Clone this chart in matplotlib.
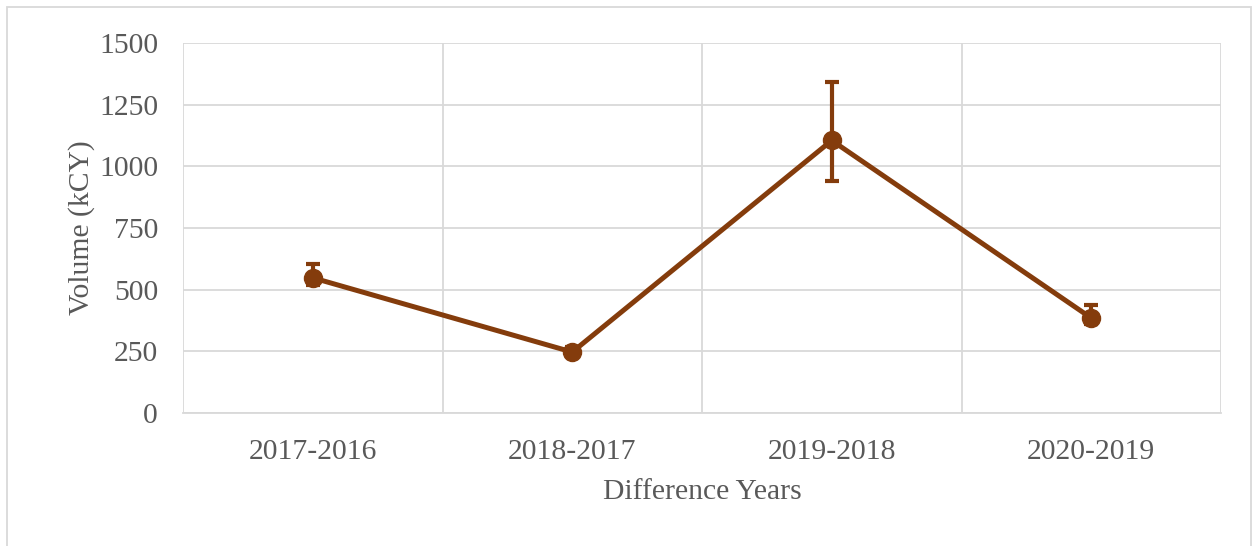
import matplotlib.pyplot as plt
import numpy as np
from matplotlib.patches import Rectangle

years = ['2017-2016', '2018-2017', '2019-2018', '2020-2019']
volume = [548, 247, 1105, 385]
err_low = [28, 15, 165, 25]
err_high = [57, 20, 235, 52]

color = '#843C0C'
plt.rcParams['font.family'] = ['Liberation Serif', 'DejaVu Serif']

fig = plt.figure(figsize=(12.53, 5.46), dpi=100)
ax = fig.add_axes([183 / 1253, 1 - 413 / 546, (1221 - 183) / 1253, (413 - 43) / 546])

x = np.arange(len(years))
ax.errorbar(x, volume, yerr=[err_low, err_high], color=color, lw=3.6,
            marker='o', markersize=13, elinewidth=3, capsize=5, capthick=3)

ax.set_xlim(-0.5, len(years) - 0.5)
ax.set_ylim(0, 1500)
ax.set_yticks(np.arange(0, 1501, 250))
ax.set_xticks(x)
ax.set_xticklabels(years)

ax.set_xticks(np.arange(-0.5, len(years)), minor=True)
ax.grid(True, which='minor', axis='x', color='#D9D9D9', lw=1.3)
ax.grid(True, which='major', axis='y', color='#D9D9D9', lw=1.3)
ax.set_axisbelow(True)
ax.tick_params(which='both', length=0, labelsize=21.3, labelcolor='#595959')
ax.tick_params(axis='x', pad=19)
ax.tick_params(axis='y', pad=18)
for s in ['top', 'right', 'left']:
    ax.spines[s].set_visible(False)
ax.spines['bottom'].set_color('#D9D9D9')
ax.spines['bottom'].set_linewidth(1.3)

ax.set_xlabel('Difference Years', fontsize=21.3, color='#595959', labelpad=10)
ax.set_ylabel('Volume (kCY)', fontsize=21.3, color='#595959', labelpad=3)

fig.patches.append(Rectangle((7 / 1253, -0.05), 1244 / 1253, 1 - 7 / 546 + 0.05,
                             transform=fig.transFigure, fill=False,
                             edgecolor='#D9D9D9', lw=1.3, clip_on=False))

fig.savefig('out.png', dpi=100)
